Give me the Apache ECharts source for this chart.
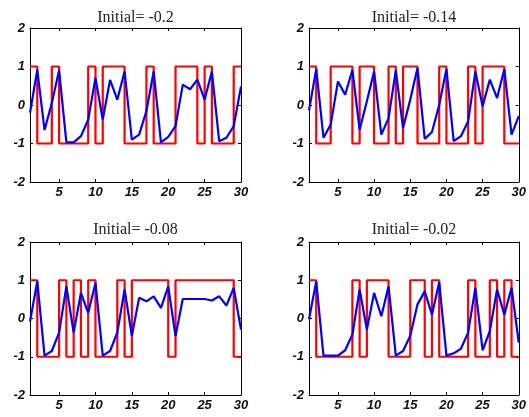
<!DOCTYPE html>
<html>
<head>
<meta charset="utf-8">
<script src="https://cdn.jsdelivr.net/npm/echarts@6/dist/echarts.min.js"></script>
<style>
html,body{margin:0;padding:0;background:#fff;}
#chart{width:529px;height:417px;}
</style>
</head>
<body>
<div id="chart"></div>
<script>
// ---- data ----
const steps = [1,2,3,4,5,6,7,8,9,10,11,12,13,14,15,16,17,18,19,20,21,22,23,24,25,26,27,28,29,30];
const titles = ['Initial= -0.2', 'Initial= -0.14', 'Initial= -0.08', 'Initial= -0.02'];
const xTickValues = [5,10,15,20,25,30];
const yTickValues = [-2,-1,0,1,2];

const blue1 = [-0.2,0.91,-0.65,0.05,0.9,-0.97,-0.97,-0.81,-0.38,0.7,-0.38,0.65,0.14,0.87,-0.9,-0.77,-0.16,0.87,-0.97,-0.83,-0.55,0.53,0.41,0.66,0.14,0.87,-0.94,-0.85,-0.55,0.48];
const red1  = [1,-1,-1,1,-1,-1,-1,-1,1,-1,1,1,1,-1,-1,-1,1,-1,-1,-1,1,1,1,-1,1,-1,-1,-1,1,1];

const blue2 = [-0.14,0.93,-0.85,-0.51,0.61,0.27,0.91,-0.64,0.1,0.87,-0.77,-0.34,0.9,-0.6,0.14,0.96,-0.88,-0.7,0.0,0.93,-0.94,-0.81,-0.42,0.87,-0.03,0.66,0.18,0.93,-0.77,-0.29];
const red2  = [1,-1,-1,1,1,1,-1,1,1,-1,-1,1,-1,1,1,-1,-1,-1,1,-1,-1,-1,1,-1,1,1,1,-1,-1,-1];

const blue3 = [-0.08,0.97,-0.97,-0.85,-0.37,0.84,-0.37,0.67,0.15,0.93,-0.97,-0.85,-0.37,0.76,-0.45,0.54,0.45,0.58,0.28,0.84,-0.46,0.51,0.51,0.51,0.51,0.47,0.58,0.34,0.8,-0.29];
const red3  = [1,-1,-1,-1,1,-1,1,-1,1,-1,-1,-1,1,-1,1,1,1,1,1,-1,1,1,1,1,1,1,1,1,-1,-1];

const blue4 = [-0.02,0.97,-0.97,-0.97,-0.97,-0.83,-0.42,0.76,-0.29,0.67,0.06,0.84,-0.97,-0.85,-0.45,0.37,0.71,0.1,0.95,-0.97,-0.91,-0.79,-0.37,0.8,-0.83,-0.33,0.76,0.1,0.8,-0.63];
const red4  = [1,-1,-1,-1,-1,-1,1,-1,1,1,1,-1,-1,-1,1,1,-1,1,-1,-1,-1,-1,1,-1,-1,1,-1,1,-1,-1];

const blues = [blue1, blue2, blue3, blue4];
const reds = [red1, red2, red3, red4];

// ---- layout ----
const grids = [
  {left: 30,  top: 28,  width: 211, height: 154},
  {left: 309, top: 28,  width: 210, height: 154},
  {left: 30,  top: 242, width: 211, height: 153},
  {left: 309, top: 242, width: 210, height: 153}
];
const titleTops = [5, 5, 217, 217];

const labelFont = {fontFamily: 'Liberation Sans', fontStyle: 'italic', fontWeight: 'bold', fontSize: 13, color: '#111'};
const lineStyle = {color: '#000', width: 1};

const option = {
  backgroundColor: '#fff',
  animation: false,
  title: [],
  grid: [],
  xAxis: [],
  yAxis: [],
  series: []
};

grids.forEach((g, i) => {
  option.grid.push(Object.assign({containLabel: false}, g));
  option.title.push({
    text: titles[i],
    left: g.left + g.width / 2 - 5,
    top: titleTops[i],
    textAlign: 'center',
    textStyle: {fontFamily: 'Liberation Serif', fontWeight: 'normal', fontSize: 16, color: '#222'}
  });
  option.xAxis.push({
    type: 'value', gridIndex: i, min: 1, max: 30, position: 'bottom',
    axisLine: {show: true, onZero: false, lineStyle},
    axisTick: {show: true, inside: true, length: 3, customValues: xTickValues, lineStyle},
    axisLabel: Object.assign({show: true, margin: 4, customValues: xTickValues}, labelFont),
    splitLine: {show: false}
  });
  option.xAxis.push({
    type: 'value', gridIndex: i, min: 1, max: 30, position: 'top',
    axisLine: {show: true, onZero: false, lineStyle},
    axisTick: {show: true, inside: true, length: 3, customValues: xTickValues, lineStyle},
    axisLabel: {show: false},
    splitLine: {show: false}
  });
  option.yAxis.push({
    type: 'value', gridIndex: i, min: -2, max: 2, interval: 1, position: 'left',
    axisLine: {show: true, onZero: false, lineStyle},
    axisTick: {show: true, inside: true, length: 3, lineStyle},
    axisLabel: Object.assign({show: true, margin: 5}, labelFont),
    splitLine: {show: false}
  });
  option.yAxis.push({
    type: 'value', gridIndex: i, min: -2, max: 2, interval: 1, position: 'right',
    axisLine: {show: true, onZero: false, lineStyle},
    axisTick: {show: true, inside: true, length: 3, lineStyle},
    axisLabel: {show: false},
    splitLine: {show: false}
  });
  option.series.push({
    type: 'line', xAxisIndex: 2 * i, yAxisIndex: 2 * i,
    data: steps.map((x, k) => [x, reds[i][k]]),
    step: 'end', symbol: 'none', z: 2,
    lineStyle: {color: '#ff0000', width: 2.2}
  });
  option.series.push({
    type: 'line', xAxisIndex: 2 * i, yAxisIndex: 2 * i,
    data: steps.map((x, k) => [x, blues[i][k]]),
    symbol: 'none', z: 3,
    lineStyle: {color: '#0000ff', width: 2.2}
  });
});

const chart = echarts.init(document.getElementById('chart'), null, {renderer: 'canvas'});
chart.setOption(option);
</script>
</body>
</html>
